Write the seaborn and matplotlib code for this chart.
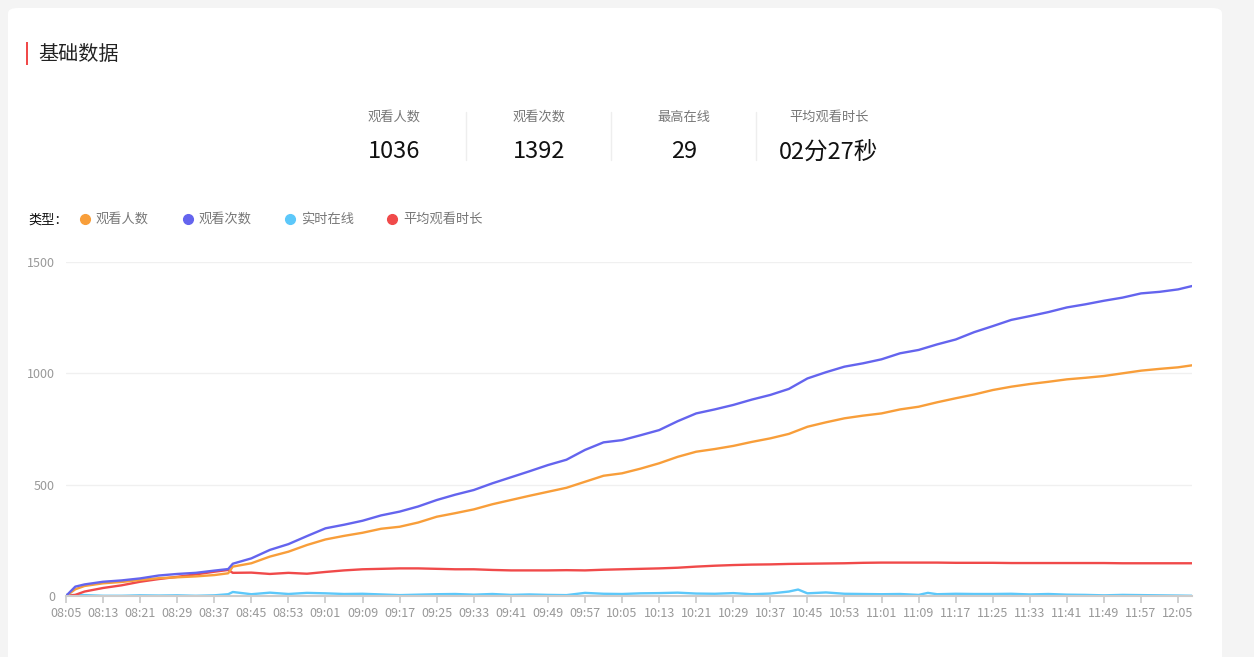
import numpy as np
import pandas as pd
import matplotlib
matplotlib.use("Agg")
import matplotlib.pyplot as plt
from matplotlib.patches import FancyBboxPatch, Rectangle
import seaborn as sns

# ---------------- data ----------------
times = ["08:05", "08:07", "08:09", "08:13", "08:17", "08:21", "08:25", "08:29", "08:33", "08:37",
         "08:40", "08:41", "08:45", "08:49", "08:53", "08:57", "09:01", "09:05", "09:09", "09:13",
         "09:17", "09:21", "09:25", "09:29", "09:33", "09:37", "09:41", "09:45", "09:49", "09:53",
         "09:57", "10:01", "10:05", "10:09", "10:13", "10:17", "10:21", "10:25", "10:29", "10:33",
         "10:37", "10:41", "10:45", "10:49", "10:53", "10:57", "11:01", "11:05", "11:09", "11:13",
         "11:17", "11:21", "11:25", "11:29", "11:33", "11:37", "11:41", "11:45", "11:49", "11:53",
         "11:57", "12:01", "12:05", "12:08"]
viewers = [0, 30, 45, 57, 63, 72, 80, 84, 88, 94,
           102, 132, 147, 177, 199, 229, 254, 270, 284, 302,
           311, 330, 356, 372, 389, 412, 431, 450, 468, 486,
           513, 540, 551, 572, 596, 625, 648, 660, 674, 692,
           708, 728, 760, 780, 798, 810, 820, 838, 850, 870,
           888, 905, 925, 940, 952, 962, 973, 980, 988, 1000,
           1012, 1020, 1027, 1036]
views = [0, 42, 52, 64, 70, 79, 92, 99, 104, 114,
         121, 145, 169, 207, 233, 269, 304, 320, 338, 362,
         379, 402, 431, 455, 476, 506, 533, 560, 588, 612,
         656, 690, 700, 722, 745, 785, 820, 838, 858, 882,
         903, 930, 977, 1005, 1030, 1045, 1063, 1090, 1105, 1130,
         1152, 1185, 1212, 1240, 1257, 1275, 1296, 1310, 1326, 1340,
         1359, 1366, 1377, 1392]
avg_watch = [0, 5, 20, 36, 48, 64, 76, 86, 97, 109,
             117, 104, 105, 99, 104, 100, 108, 115, 120, 122,
             124, 124, 122, 120, 120, 117, 115, 115, 115, 116,
             115, 118, 120, 122, 124, 127, 132, 136, 139, 141,
             142, 144, 145, 146, 147, 149, 150, 150, 150, 150,
             149, 149, 149, 148, 148, 148, 148, 148, 148, 147,
             147, 147, 147, 147]
online_times = ["08:05", "08:07", "08:09", "08:13", "08:17", "08:21", "08:25", "08:29", "08:33", "08:37",
                "08:40", "08:41", "08:45", "08:49", "08:53", "08:57", "09:01", "09:05", "09:09", "09:13",
                "09:17", "09:21", "09:25", "09:29", "09:33", "09:37", "09:41", "09:45", "09:49", "09:53",
                "09:57", "10:01", "10:05", "10:09", "10:13", "10:17", "10:21", "10:25", "10:29", "10:33",
                "10:37", "10:41", "10:43", "10:45", "10:49", "10:53", "10:57", "11:01", "11:05", "11:09",
                "11:11", "11:13", "11:17", "11:21", "11:25", "11:29", "11:33", "11:37", "11:41", "11:45",
                "11:49", "11:53", "11:57", "12:01", "12:05", "12:08"]
online = [5, 4, 4, 1, 1, 3, 2, 3, 1, 3,
          8, 18, 8, 15, 9, 14, 12, 9, 10, 7,
          4, 6, 8, 9, 6, 9, 5, 7, 5, 4,
          14, 10, 9, 12, 13, 15, 11, 10, 13, 8,
          11, 20, 29, 12, 16, 10, 9, 8, 9, 5,
          14, 8, 10, 9, 9, 10, 7, 9, 6, 5,
          3, 5, 4, 3, 2, 1]

tick_labels = ["08:05", "08:13", "08:21", "08:29", "08:37", "08:45", "08:53", "09:01", "09:09",
               "09:17", "09:25", "09:33", "09:41", "09:49", "09:57", "10:05", "10:13", "10:21",
               "10:29", "10:37", "10:45", "10:53", "11:01", "11:09", "11:17", "11:25", "11:33",
               "11:41", "11:49", "11:57", "12:05"]

series_names = ["观看人数", "观看次数", "实时在线", "平均观看时长"]
colors = ["#F89E3A", "#6464EE", "#5CC8FA", "#F04A4A"]

stat_labels = ["观看人数", "观看次数", "最高在线", "平均观看时长"]
stat_values = ["1036", "1392", "29", "02分27秒"]


def to_min(t):
    h, m = t.split(":")
    return int(h) * 60 + int(m) - (8 * 60 + 5)


df = pd.concat([
    pd.DataFrame({"t": [to_min(t) for t in times], "v": viewers, "s": series_names[0]}),
    pd.DataFrame({"t": [to_min(t) for t in times], "v": views, "s": series_names[1]}),
    pd.DataFrame({"t": [to_min(t) for t in online_times], "v": online, "s": series_names[2]}),
    pd.DataFrame({"t": [to_min(t) for t in times], "v": avg_watch, "s": series_names[3]}),
], ignore_index=True)

# ---------------- figure ----------------
sns.set_theme(style="white")
plt.rcParams["font.family"] = ["Noto Sans CJK SC", "DejaVu Sans"]

W, H = 1254, 657
fig = plt.figure(figsize=(W / 100, H / 100), dpi=100)
fig.patch.set_facecolor("#F4F4F4")

def fx(px):
    return px / W

def fy(py):
    return 1 - py / H

# white card
card = FancyBboxPatch((fx(8), fy(680)), fx(1214), fy(8) - fy(680),
                      boxstyle="round,pad=0,rounding_size=0.008",
                      transform=fig.transFigure, facecolor="white", edgecolor="none", zorder=-10)
fig.patches.append(card)

# title bar + title
fig.patches.append(Rectangle((fx(26), fy(65)), fx(2), fy(42) - fy(65), transform=fig.transFigure,
                             facecolor="#F04A4A", edgecolor="none", zorder=-5))
fig.text(fx(38), fy(54), "基础数据", fontsize=14.5, color="#222222", va="center", ha="left")

# stats
centers = [394, 539, 684, 829]
for i, (lab, val) in enumerate(zip(stat_labels, stat_values)):
    fig.text(fx(centers[i]), fy(117), lab, fontsize=9.5, color="#777777", ha="center", va="center")
    fig.text(fx(centers[i]), fy(152), val, fontsize=17, color="#111111", ha="center", va="center")
for dx in [466, 611, 756]:
    fig.add_artist(plt.Line2D([fx(dx), fx(dx)], [fy(112), fy(160)], transform=fig.transFigure,
                              color="#EEEEEE", lw=1, zorder=-5))

# legend
fig.text(fx(28), fy(220), "类型：", fontsize=9.5, color="#111111", ha="left", va="center")
leg_x = [85, 188, 290, 392]
for i, name in enumerate(series_names):
    fig.add_artist(plt.Line2D([fx(leg_x[i])], [fy(219)], transform=fig.transFigure, marker="o",
                              markersize=7, color=colors[i], lw=0))
    fig.text(fx(leg_x[i] + 11), fy(219), name, fontsize=9.5, color="#777777", ha="left", va="center")

# axes
ax = fig.add_axes([fx(66), fy(596), fx(1192) - fx(66), fy(262) - fy(596)])
ax.set_zorder(5)
ax.set_facecolor("none")
sns.lineplot(data=df, x="t", y="v", hue="s", palette=dict(zip(series_names, colors)),
             hue_order=[series_names[2], series_names[3], series_names[0], series_names[1]],
             linewidth=1.7, ax=ax, legend=False, estimator=None, sort=True)

ax.set_xlim(0, to_min("12:08"))
ax.set_ylim(0, 1500)
ax.set_yticks([0, 500, 1000, 1500])
ax.set_yticklabels(["0", "500", "1000", "1500"])
ax.set_xticks([to_min(t) for t in tick_labels])
ax.set_xticklabels(tick_labels)
ax.set_xlabel("")
ax.set_ylabel("")
for sp in ["top", "right", "left"]:
    ax.spines[sp].set_visible(False)
ax.spines["bottom"].set_color("#CCCCCC")
ax.spines["bottom"].set_linewidth(1.5)
ax.grid(axis="y", color="#F0F0F0", lw=1)
ax.set_axisbelow(True)
ax.tick_params(axis="x", length=5, color="#CCCCCC", labelsize=9, labelcolor="#999999", pad=3, bottom=True)
ax.tick_params(axis="y", length=0, labelsize=9, labelcolor="#999999", pad=8)

fig.savefig("out.png", dpi=100, facecolor=fig.get_facecolor())
